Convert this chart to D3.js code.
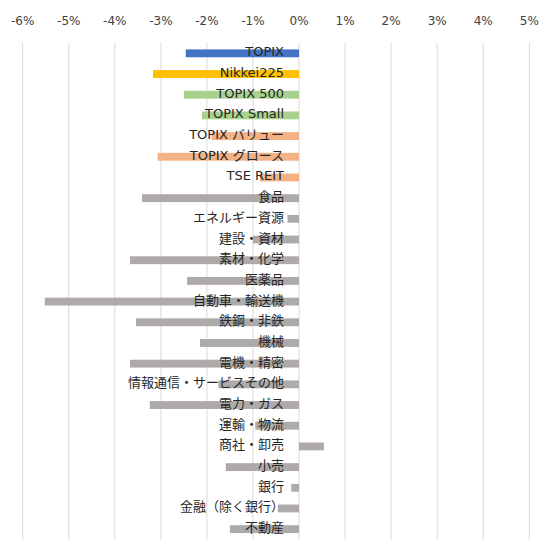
<!DOCTYPE html>
<html>
<head>
<meta charset="utf-8">
<script src="https://cdn.jsdelivr.net/npm/d3@7"></script>
<style>
  body { margin: 0; background: #fff; }
  svg { display: block; }
  text { font-family: "DejaVu Sans", "Noto Sans CJK JP", sans-serif; }
</style>
</head>
<body>
<script>
const categories = [
  "TOPIX", "Nikkei225", "TOPIX 500", "TOPIX Small", "TOPIX バリュー", "TOPIX グロース", "TSE REIT",
  "食品", "エネルギー資源", "建設・資材", "素材・化学", "医薬品", "自動車・輸送機", "鉄鋼・非鉄",
  "機械", "電機・精密", "情報通信・サービスその他", "電力・ガス", "運輸・物流", "商社・卸売",
  "小売", "銀行", "金融（除く銀行）", "不動産"
]
// returns in %
const values = [
  -2.46, -3.17, -2.50, -2.11, -1.90, -3.07, -0.85,
  -3.41, -0.25, -1.00, -3.67, -2.43, -5.52, -3.54,
  -2.15, -3.67, -1.75, -3.24, -0.95, 0.54,
  -1.59, -0.17, -0.46, -1.50
]
const groups = [
  "topix", "nikkei", "size", "size", "style", "style", "style",
  "sector", "sector", "sector", "sector", "sector", "sector", "sector",
  "sector", "sector", "sector", "sector", "sector", "sector",
  "sector", "sector", "sector", "sector"
]
const ticks = [-6, -5, -4, -3, -2, -1, 0, 1, 2, 3, 4, 5]

const colors = {
  topix: "#4472C4", nikkei: "#FFC000", size: "#A9D18E", style: "#F4B183", sector: "#AEAAAA"
}

const width = 549, height = 554
const svg = d3.select("body").append("svg").attr("width", width).attr("height", height)

const x = d3.scaleLinear().domain([-6, 5]).range([22.7, 529.3])
const y = d3.scaleBand().domain(categories).range([43, 539.5]).paddingInner(0.62).paddingOuter(0.31)

// gridlines
svg.append("g").selectAll("line").data(ticks).join("line")
  .attr("x1", d => x(d)).attr("x2", d => x(d))
  .attr("y1", 43).attr("y2", 539.5)
  .attr("stroke", "#D9D9D9").attr("stroke-width", 1)

// top axis labels
svg.append("g").selectAll("text").data(ticks).join("text")
  .attr("x", d => x(d)).attr("y", 25)
  .attr("text-anchor", "middle")
  .attr("font-size", 12).attr("fill", "#404040")
  .text(d => d + "%")

const rows = categories.map((c, i) => ({ c, v: values[i], g: groups[i] }))

// bars
svg.append("g").selectAll("rect").data(rows).join("rect")
  .attr("x", d => x(Math.min(0, d.v)))
  .attr("width", d => Math.abs(x(d.v) - x(0)))
  .attr("y", d => y(d.c))
  .attr("height", y.bandwidth())
  .attr("fill", d => colors[d.g])

// category labels, right-aligned next to the zero line
svg.append("g").selectAll("text").data(rows).join("text")
  .attr("x", x(0) - 15)
  .attr("y", d => y(d.c) + y.bandwidth() / 2 + 3)
  .attr("text-anchor", "end")
  .attr("font-size", 13).attr("fill", "#262626")
  .text(d => d.c)
</script>
</body>
</html>
